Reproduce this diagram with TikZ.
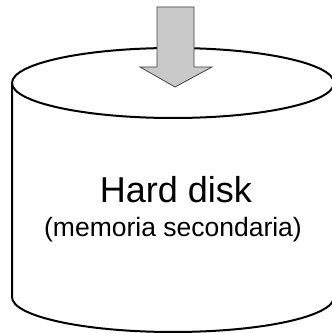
\documentclass[tikz,border=0pt]{standalone}
\usepackage{fontspec}
\setmainfont{Liberation Sans}
\tikzset{
  disk/.style={draw=black, line width=2pt, fill=white},
  inarrow/.style={draw=black!75, line width=0.8pt, fill=black!21, line join=miter},
  title/.style={font=\fontsize{36}{40}\selectfont, anchor=base, inner sep=0pt},
  subtitle/.style={font=\fontsize{26.5}{30}\selectfont, anchor=base, inner sep=0pt}
}
\begin{document}
\begin{tikzpicture}[x=1pt, y=1pt]
  \useasboundingbox (0,0) rectangle (332,333);
  \clip (0,0) rectangle (332,333);
  % cylinder body and top face
  \draw[disk] (12,250) -- (12,36) arc[start angle=180, end angle=360, x radius=161, y radius=35]
    -- (334,250);
  \draw[disk] (173,250) ellipse[x radius=161, y radius=35];
  % incoming arrow
  \draw[inarrow] (157,326) -- (194,326) -- (194,266) -- (212,266) -- (175,246)
    -- (140,266) -- (157,266) -- cycle;
  % labels
  \node[title] (name) at (176,130) {Hard disk};
  \node[subtitle] (desc) at (173,96) {(memoria secondaria)};
\end{tikzpicture}
\end{document}
